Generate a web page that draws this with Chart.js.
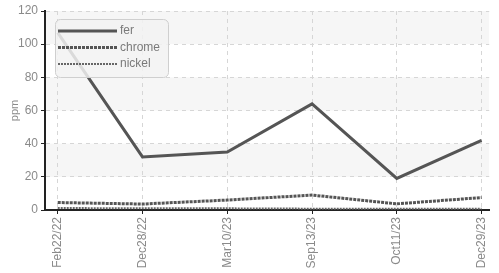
<!DOCTYPE html>
<html>
<head>
<meta charset="UTF-8">
<title>ppm</title>
<script src="https://cdn.jsdelivr.net/npm/chart.js"></script>
<style>
  html, body { margin: 0; padding: 0; background: #fff; }
  #wrap { width: 499px; height: 273px; }
</style>
</head>
<body>
<div id="wrap"><canvas id="chart"></canvas></div>
<script>
var dates = ['Feb22/22', 'Dec28/22', 'Mar10/23', 'Sep13/23', 'Oct11/23', 'Dec29/23'];
var fer = [107, 32, 35, 64, 19, 42];
var chrome = [4.5, 3.6, 6, 9, 3.7, 7.5];
var nickel = [1.2, 1, 1, 0.8, 0.8, 0.8];
var yTicks = [0, 20, 40, 60, 80, 100, 120];

var FONT = '"Liberation Sans", Arial, sans-serif';

function pts(arr) {
    return arr.map(function (v, i) { return { x: i, y: v }; });
}

// grey bands between every other pair of y ticks
var bands = {
    id: 'bands',
    beforeDraw: function (chart) {
        var ctx = chart.ctx, a = chart.chartArea, y = chart.scales.y;
        ctx.save();
        ctx.fillStyle = '#f6f6f6';
        for (var i = 1; i < yTicks.length - 1; i += 2) {
            var top = y.getPixelForValue(yTicks[i + 1]);
            var bot = y.getPixelForValue(yTicks[i]);
            ctx.fillRect(a.left, top, a.right - a.left, bot - top);
        }
        ctx.restore();
    }
};

// legend box drawn inside the plot, top left
var boxLegend = {
    id: 'boxLegend',
    afterDatasetsDraw: function (chart) {
        var ctx = chart.ctx;
        var x0 = 55, y0 = 19, w = 113, h = 58;
        ctx.save();
        ctx.fillStyle = 'rgba(242,242,242,0.85)';
        ctx.strokeStyle = '#cfcfcf';
        ctx.lineWidth = 1;
        ctx.beginPath();
        ctx.roundRect(x0 + 0.5, y0 + 0.5, w, h, 5);
        ctx.fill();
        ctx.stroke();
        ctx.font = '12px ' + FONT;
        ctx.textBaseline = 'middle';
        chart.data.datasets.forEach(function (ds, i) {
            var yy = 31 + i * 16.5;
            ctx.strokeStyle = ds.borderColor;
            ctx.lineWidth = ds.borderWidth;
            ctx.setLineDash(ds.borderDash || []);
            ctx.beginPath();
            ctx.moveTo(58, yy);
            ctx.lineTo(117, yy);
            ctx.stroke();
            ctx.setLineDash([]);
            ctx.fillStyle = '#7a7a7a';
            ctx.fillText(ds.label, 120, yy);
        });
        ctx.restore();
    }
};

var gridOpts = {
    color: '#d6d6d6',
    tickBorderDash: [],
    tickColor: '#222',
    tickLength: 4
};

new Chart(document.getElementById('chart'), {
    type: 'line',
    data: {
        datasets: [
            { label: 'fer', data: pts(fer), borderColor: '#555', borderWidth: 3 },
            { label: 'chrome', data: pts(chrome), borderColor: '#555', borderWidth: 3, borderDash: [3, 1] },
            { label: 'nickel', data: pts(nickel), borderColor: '#666', borderWidth: 2, borderDash: [2, 1] }
        ]
    },
    options: {
        responsive: true,
        maintainAspectRatio: false,
        animation: false,
        devicePixelRatio: 1,
        layout: { padding: { top: 11, right: 2, left: 0, bottom: 0 } },
        elements: { point: { radius: 0 }, line: { tension: 0 } },
        plugins: { legend: { display: false }, tooltip: { enabled: false } },
        scales: {
            x: {
                type: 'linear',
                min: -0.15,
                max: 5.09,
                afterBuildTicks: function (s) {
                    s.ticks = dates.map(function (d, i) { return { value: i }; });
                },
                afterFit: function (s) { s.height = 63; },
                ticks: {
                    minRotation: 90,
                    maxRotation: 90,
                    color: '#8a8a8a',
                    padding: 3,
                    font: { family: FONT, size: 12 },
                    callback: function (v) { return dates[v]; }
                },
                grid: gridOpts,
                border: { color: '#222', width: 2, dash: [4, 4] }
            },
            y: {
                min: 0,
                max: 120,
                afterBuildTicks: function (s) {
                    s.ticks = yTicks.map(function (v) { return { value: v }; });
                },
                afterFit: function (s) { s.width = 45; },
                ticks: {
                    color: '#8a8a8a',
                    padding: 3,
                    font: { family: FONT, size: 12 }
                },
                title: {
                    display: true,
                    text: 'ppm',
                    color: '#8a8a8a',
                    padding: { top: 8, bottom: 0 },
                    font: { family: FONT, size: 11 }
                },
                grid: gridOpts,
                border: { color: '#222', width: 2, dash: [4, 4] }
            }
        }
    },
    plugins: [bands, boxLegend]
});
</script>
</body>
</html>
